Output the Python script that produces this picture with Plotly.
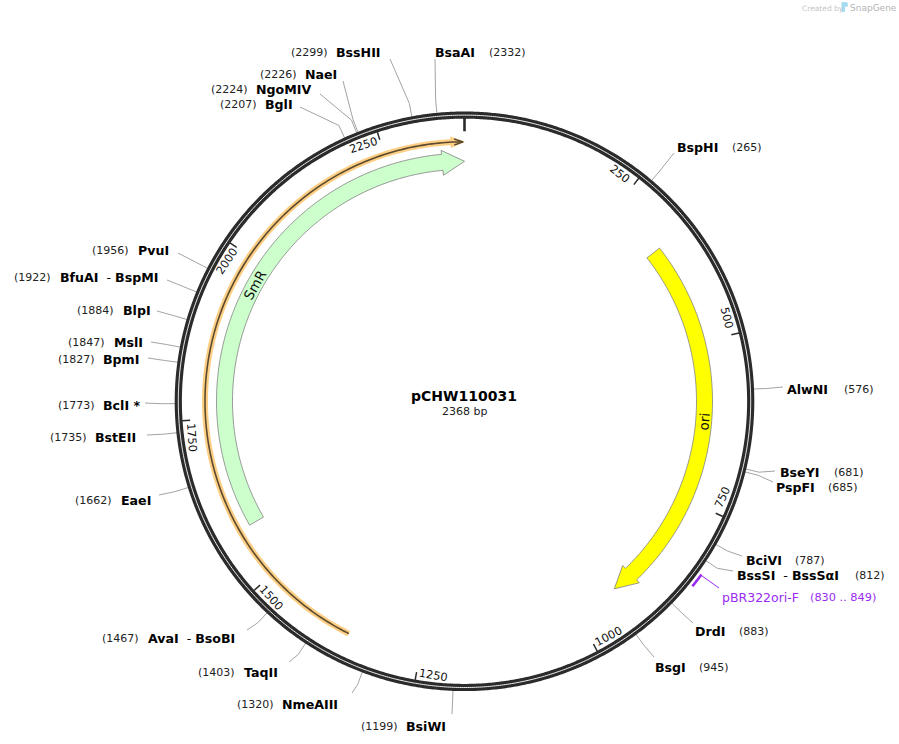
import numpy as np
import plotly.graph_objects as go

# plasmid
plasmid_name = "pCHW110031"
plasmid_len = 2368
tick_bp = [250, 500, 750, 1000, 1250, 1500, 1750, 2000, 2250]

# restriction sites, clockwise from the origin
site_names = ["BspHI", "AlwNI", "BseYI", "PspFI", "BciVI", "BssSI - BssSαI", "DrdI", "BsgI",
              "BsiWI", "NmeAIII", "TaqII", "AvaI - BsoBI", "EaeI", "BstEII", "BclI *", "BpmI",
              "MslI", "BlpI", "BfuAI - BspMI", "PvuI", "BglI", "NgoMIV", "NaeI", "BssHII", "BsaAI"]
site_bp = [265, 576, 681, 685, 787, 812, 883, 945,
           1199, 1320, 1403, 1467, 1662, 1735, 1773, 1827,
           1847, 1884, 1922, 1956, 2207, 2224, 2226, 2299, 2332]

# where each site's label sits on the page: name left, number left, row, connector end
name_x = [677, 787, 780, 776, 746, 737, 695, 655,
          406, 282, 244, 148, 121, 95, 103, 103,
          114, 123, 60, 138, 265, 256, 305, 336, 435]
num_x = [732, 844, 834, 828, 795, 855, 739, 699,
         361, 237, 198, 102, 75, 50, 58, 58,
         68, 77, 14, 92, 220, 211, 260, 291, 489]
label_y = [147, 389, 472, 487, 560, 575, 631, 667,
           726, 704, 672, 638, 500, 437, 405, 359,
           342, 310, 277, 250, 104, 89, 74, 52, 52]
end_x = [674, 783, 775, 773, 742, 733, 693, 654,
         452, 352, 289, 247, 159, 147, 145, 148,
         151, 157, 167, 178, 300, 320, 343, 390, 435]
end_y = [153, 387, 471, 482, 556, 571, 623, 657,
         714, 693, 662, 630, 495, 435, 403, 358,
         342, 311, 280, 253, 107, 94, 81, 59, 59]

# features: start, shaft end, tip (bp, drawn clockwise)
smr_bp = [1579, 2333, 2368]
ori_bp = [341, 895, 930]
smr_label_bp = 1967
ori_label_bp = 624
primer_bp = [1358, 2351, 2368]
oligo_bp = [830, 849]

CX, CY = 464.5, 401.3


def polar(bp, r):
    a = np.asarray(bp, dtype=float) / plasmid_len * 2 * np.pi
    return CX + r * np.sin(a), CY - r * np.cos(a)


def arc(b0, b1, r, n=200):
    return polar(np.linspace(b0, b1, n), r)


def arrow_shape(b0, b_shaft, b_tip, r_in, r_out, r_head_in, r_head_out):
    xo, yo = arc(b0, b_shaft, r_out)
    xi, yi = arc(b_shaft, b0, r_in)
    hx0, hy0 = polar(b_shaft, r_head_out)
    tx, ty = polar(b_tip, (r_in + r_out) / 2)
    hx1, hy1 = polar(b_shaft, r_head_in)
    xs = list(xo) + [hx0, tx, hx1] + list(xi) + [xo[0]]
    ys = list(yo) + [hy0, ty, hy1] + list(yi) + [yo[0]]
    return xs, ys


fig = go.Figure()


def line_trace(x, y, color, width):
    # simplify off, otherwise plotly flattens the arcs into visible facets
    fig.add_trace(go.Scatter(x=x, y=y, mode="lines", line=dict(color=color, width=width, simplify=False),
                             hoverinfo="skip", showlegend=False))


# connector lines
cx_list, cy_list = [], []
for bp, ex, ey in zip(site_bp, end_x, end_y):
    x0, y0 = polar(bp, 289)
    x1, y1 = polar(bp, 303)
    cx_list += [x0, x1, ex, None]
    cy_list += [y0, y1, ey, None]
line_trace(cx_list, cy_list, "#999999", 0.9)

# backbone ring
rx, ry = arc(0, plasmid_len, 286.2, 900)
line_trace(rx, ry, "#2b2b2b", 7.2)
line_trace(rx, ry, "#f0f0f0", 1)

# ticks
tx_list, ty_list = [], []
for bp in tick_bp:
    x0, y0 = polar(bp, 283)
    x1, y1 = polar(bp, 275)
    tx_list += [x0, x1, None]
    ty_list += [y0, y1, None]
line_trace(tx_list, ty_list, "#2b2b2b", 1.5)
x0, y0 = polar(0, 284)
x1, y1 = polar(0, 270)
line_trace([x0, x1], [y0, y1], "#2b2b2b", 2.6)

# SmR and ori arrows
for bps, color, r_head_in in [(smr_bp, "#ccffcc", 227), (ori_bp, "#ffff00", 228)]:
    xs, ys = arrow_shape(bps[0], bps[1], bps[2], 232, 248, r_head_in, 252)
    fig.add_trace(go.Scatter(x=xs, y=ys, mode="lines", fill="toself", fillcolor=color,
                             line=dict(color="#808080", width=0.8, simplify=False),
                             hoverinfo="skip", showlegend=False))

# primer binding arc with halo
px, py = arc(primer_bp[0], primer_bp[1], 259.5)
line_trace(px, py, "#fdcf85", 6)
hx0, hy0 = polar(primer_bp[1] - 3, 265)
hx1, hy1 = polar(primer_bp[2], 259.5)
hx2, hy2 = polar(primer_bp[1] - 3, 254)
fig.add_trace(go.Scatter(x=[hx0, hx1, hx2, hx0], y=[hy0, hy1, hy2, hy0], mode="lines", fill="toself",
                         fillcolor="#fdcf85", line=dict(color="#fdcf85", width=0.5),
                         hoverinfo="skip", showlegend=False))
px2, py2 = arc(primer_bp[0], primer_bp[2] - 2, 259.5)
line_trace(px2, py2, "#5c4a2e", 1.6)
hx0, hy0 = polar(primer_bp[1] + 2, 262.5)
hx1, hy1 = polar(primer_bp[2] - 2, 259.5)
hx2, hy2 = polar(primer_bp[1] + 2, 256.5)
line_trace([hx0, hx1, hx2], [hy0, hy1, hy2], "#5c4a2e", 1.4)

# pBR322ori-F oligo
ox, oy = arc(oligo_bp[0], oligo_bp[1], 293.5, 20)
line_trace(ox, oy, "#9a2bf0", 2.6)
ox0, oy0 = polar(oligo_bp[0] + 1, 293.5)
line_trace([ox0, 719], [oy0, 588], "#9a2bf0", 1)

FONT = "DejaVu Sans"
anns = []


def label(x, y, text, size=11, color="#222222", anchor="left", angle=0):
    anns.append(dict(x=x, y=y, xref="x", yref="y", text=text, showarrow=False, xanchor=anchor,
                     yanchor="middle", textangle=angle, borderpad=0,
                     font=dict(family=FONT, size=size, color=color)))


for name, bp, nx_, px_, ly in zip(site_names, site_bp, name_x, num_x, label_y):
    # the dash in a double name has extra room in front of it
    bold = "\u00a0\u00a0-\u00a0".join(f"<b>{part}</b>" for part in name.split(" - "))
    label(nx_ - 1, ly, bold, size=12.6, color="#000000")
    label(px_ - 1, ly, f"({bp})")

label(721, 597, "pBR322ori-F", size=12.5, color="#9a2bf0")
label(809, 597, f"({oligo_bp[0]} .. {oligo_bp[1]})", size=11.3, color="#9a2bf0")

label(CX - 0.5, 396, f"<b>{plasmid_name}</b>", size=14, color="#000000", anchor="center")
label(CX, 411, f"{plasmid_len} bp", anchor="center")

# tick numbers follow the ring, kept upright
for bp in tick_bp:
    deg = bp / plasmid_len * 360
    x, y = polar(bp - 3.6 / 360 * plasmid_len, 275.5)
    rot = deg - 180 if 90 < deg < 270 else (deg - 360 if deg >= 270 else deg)
    label(x, y, str(bp), size=11.3, color="#111111", anchor="center", angle=rot)

for text, bp in [("SmR", smr_label_bp), ("ori", ori_label_bp)]:
    deg = bp / plasmid_len * 360
    x, y = polar(bp, 240)
    rot = deg - 180 if 90 < deg < 270 else (deg - 360 if deg >= 270 else deg)
    label(x, y, text, size=13.5, color="#111111", anchor="center", angle=rot)

# watermark
label(801, 8, "Created by", size=7.5, color="#c4c4c4")
label(849, 8, "SnapGene", size=9, color="#b4b4b4")
shapes = [dict(type="rect", xref="x", yref="y", x0=841.5, x1=845, y0=2, y1=12,
               fillcolor="#a6dcf2", line=dict(width=0)),
          dict(type="circle", xref="x", yref="y", x0=843, x1=848, y0=2, y1=7,
               fillcolor="#a6dcf2", line=dict(width=0))]

fig.update_layout(
    width=899, height=744, margin=dict(l=0, r=0, t=0, b=0),
    paper_bgcolor="white", plot_bgcolor="white", showlegend=False,
    xaxis=dict(range=[0, 899], visible=False, fixedrange=True),
    yaxis=dict(range=[744, 0], visible=False, fixedrange=True),
    annotations=anns, shapes=shapes,
)

fig.write_html("out.html", config=dict(displayModeBar=False),
               post_script="document.body.style.margin='0';document.body.style.overflow='hidden';")
